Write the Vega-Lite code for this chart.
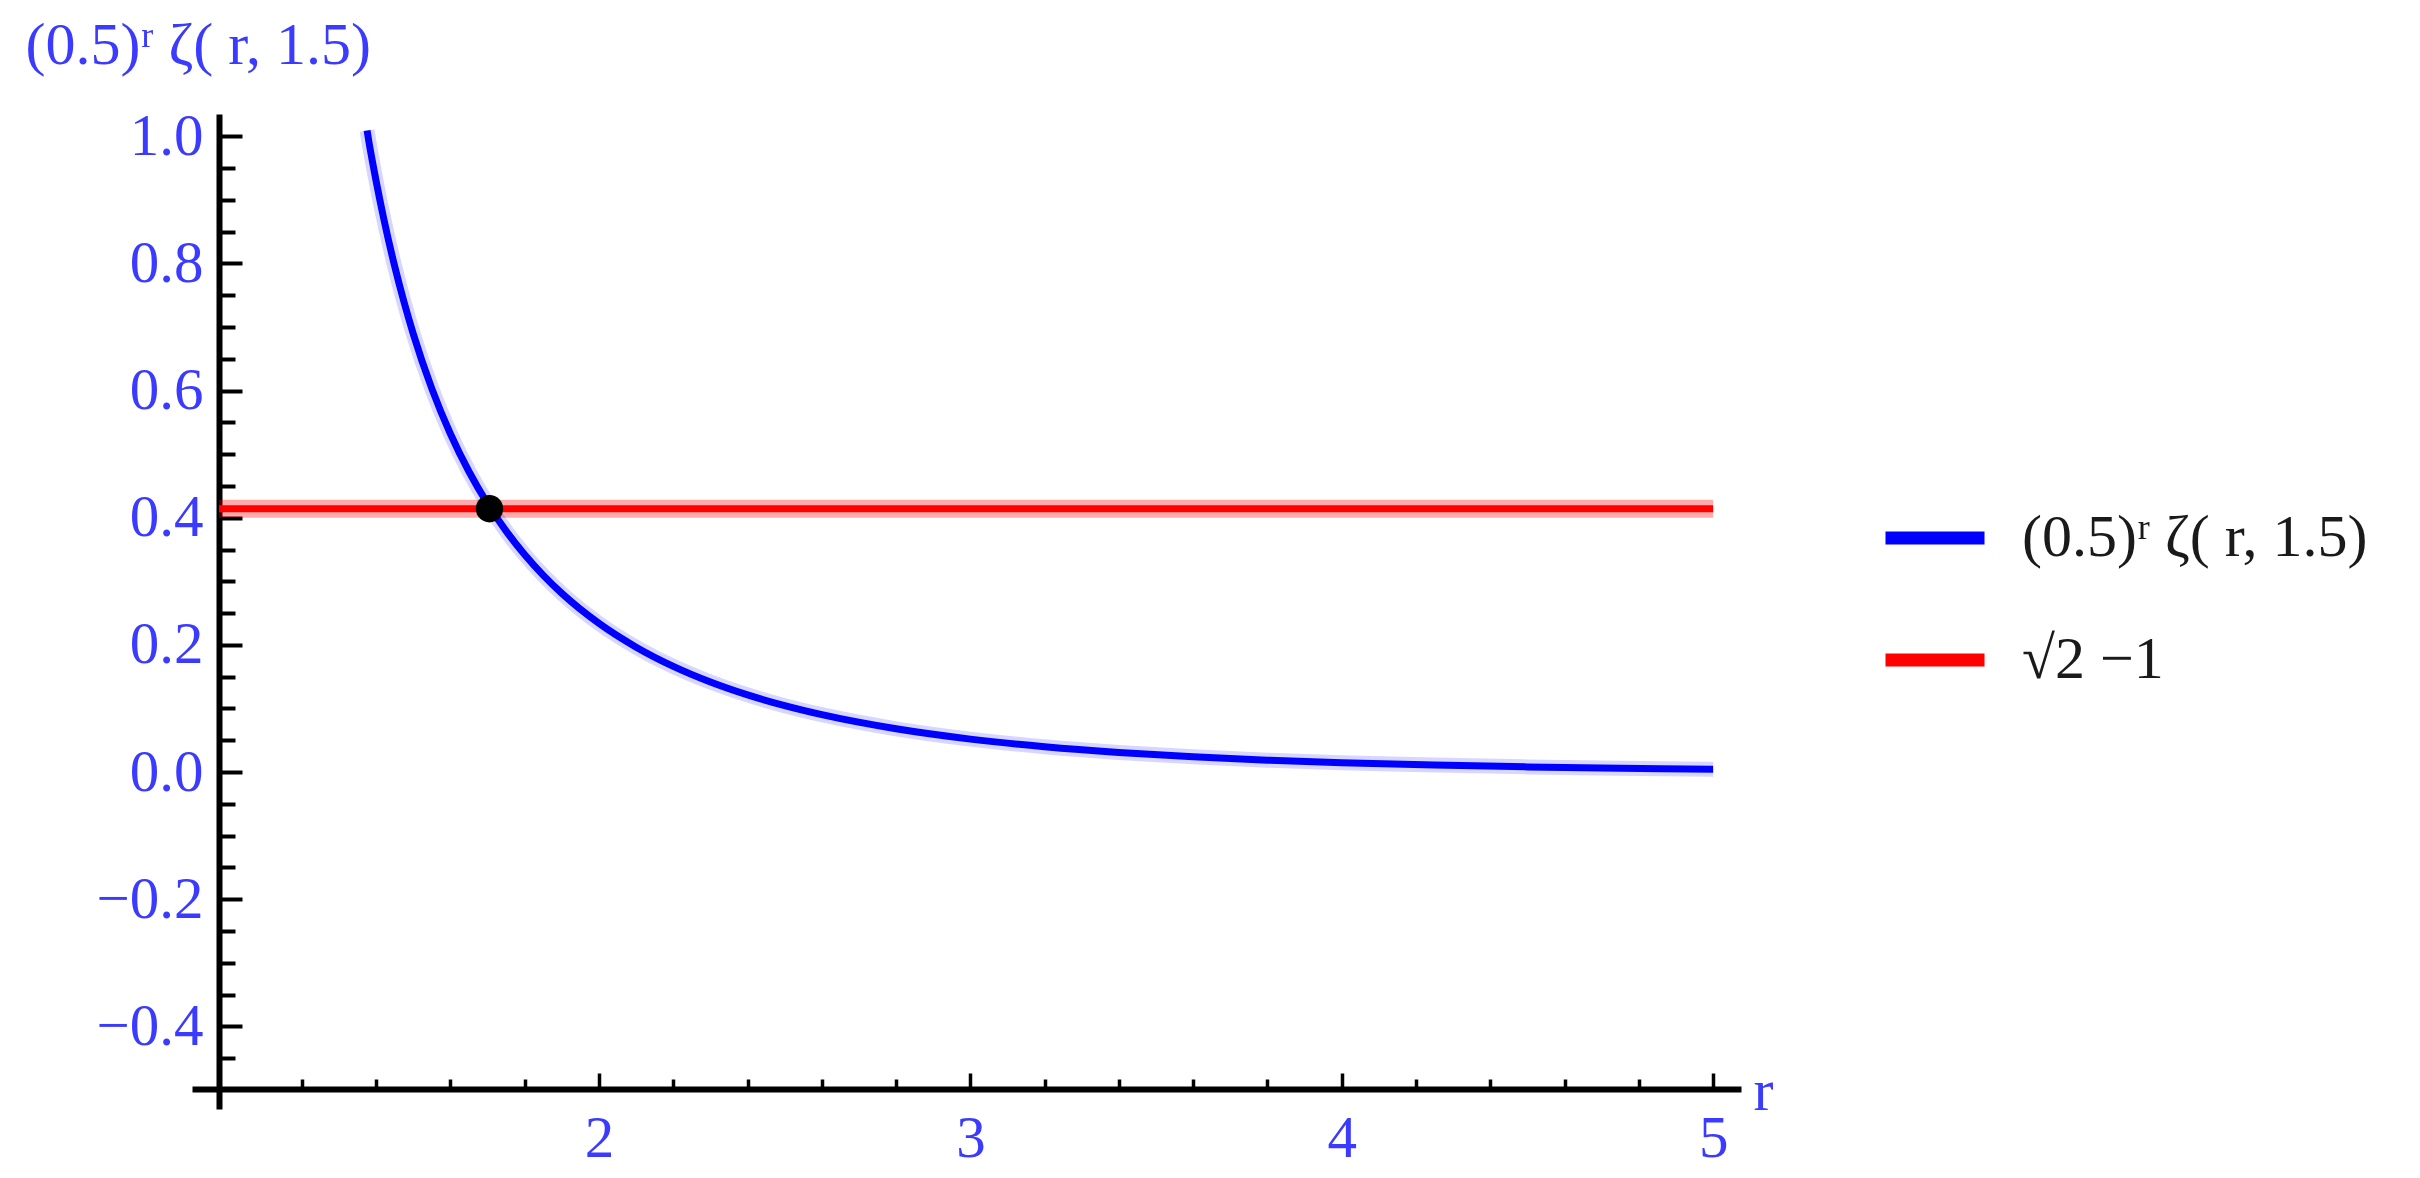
{
  "$schema": "https://vega.github.io/schema/vega-lite/v6.json",
  "width": 1549,
  "height": 995,
  "autosize": {"type": "none"},
  "padding": {"left": 192, "top": 114, "right": 679, "bottom": 69},
  "background": "white",
  "config": {"view": {"stroke": null}, "font": "Liberation Serif"},
  "encoding": {
    "x": {
      "field": "r",
      "type": "quantitative",
      "scale": {"domain": [0.904, 5.075], "nice": false, "zero": false},
      "axis": {
        "orient": "bottom",
        "offset": -20,
        "grid": false,
        "values": [1.2, 1.4, 1.6, 1.8, 2, 2.2, 2.4, 2.6, 2.8, 3, 3.2, 3.4, 3.6, 3.8, 4, 4.2, 4.4, 4.6, 4.8, 5],
        "labelExpr": "abs(datum.value - round(datum.value)) < 0.001 ? format(datum.value, 'd') : ''",
        "tickSize": {"condition": {"test": "abs(datum.value - round(datum.value)) < 0.001", "value": -16}, "value": -10},
        "tickWidth": 3.5,
        "tickColor": "black",
        "domainColor": "black",
        "domainWidth": 6,
        "labelFont": "Liberation Serif",
        "labelFontSize": 59,
        "labelColor": "#3b3bff",
        "labelPadding": 36,
        "labelBaseline": "top",
        "labelFlush": false,
        "labelOverlap": false,
        "labelBound": false,
        "title": "r",
        "titleFont": "Liberation Serif",
        "titleFontSize": 60,
        "titleFontWeight": "normal",
        "titleColor": "#3b3bff",
        "titleX": 1561,
        "titleY": 20,
        "titleAlign": "left",
        "titleBaseline": "alphabetic",
        "titleAngle": 0
      }
    },
    "y": {
      "field": "v",
      "type": "quantitative",
      "scale": {"domain": [-0.53, 1.035], "nice": false, "zero": false},
      "axis": {
        "orient": "left",
        "offset": -27,
        "grid": false,
        "values": [-0.45, -0.4, -0.35, -0.3, -0.25, -0.2, -0.15, -0.1, -0.05, 0, 0.05, 0.1, 0.15, 0.2, 0.25, 0.3, 0.35, 0.4, 0.45, 0.5, 0.55, 0.6, 0.65, 0.7, 0.75, 0.8, 0.85, 0.9, 0.95, 1.0],
        "labelExpr": "abs(datum.value * 5 - round(datum.value * 5)) < 0.001 ? format(datum.value, '.1f') : ''",
        "tickSize": {"condition": {"test": "abs(datum.value * 5 - round(datum.value * 5)) < 0.001", "value": -23}, "value": -16},
        "tickWidth": 4,
        "tickColor": "black",
        "domainColor": "black",
        "domainWidth": 6,
        "labelFont": "Liberation Serif",
        "labelFontSize": 59,
        "labelColor": "#3b3bff",
        "labelPadding": 39,
        "labelBaseline": "middle",
        "labelFlush": false,
        "labelOverlap": false,
        "labelBound": false,
        "title": "(0.5)ʳ ζ( r, 1.5)",
        "titleFont": "Liberation Serif",
        "titleFontSize": 60,
        "titleFontWeight": "normal",
        "titleColor": "#3b3bff",
        "titleAngle": 0,
        "titleX": -194,
        "titleY": -51,
        "titleAlign": "left",
        "titleBaseline": "alphabetic"
      }
    }
  },
  "datasets": {
    "curve": [
      {"r": 1.3755, "v": 1.009},
      {"r": 1.38, "v": 0.9926},
      {"r": 1.39, "v": 0.9598},
      {"r": 1.4, "v": 0.9288},
      {"r": 1.42, "v": 0.8712},
      {"r": 1.45, "v": 0.7949},
      {"r": 1.475, "v": 0.739},
      {"r": 1.5, "v": 0.6888},
      {"r": 1.55, "v": 0.6027},
      {"r": 1.6, "v": 0.5317},
      {"r": 1.65, "v": 0.4723},
      {"r": 1.7, "v": 0.422},
      {"r": 1.75, "v": 0.3789},
      {"r": 1.8, "v": 0.3417},
      {"r": 1.85, "v": 0.3093},
      {"r": 1.9, "v": 0.2809},
      {"r": 2.0, "v": 0.2337},
      {"r": 2.1, "v": 0.1964},
      {"r": 2.2, "v": 0.1662},
      {"r": 2.3, "v": 0.1416},
      {"r": 2.4, "v": 0.1213},
      {"r": 2.5, "v": 0.1044},
      {"r": 2.6, "v": 0.0902},
      {"r": 2.8, "v": 0.068},
      {"r": 3.0, "v": 0.0518},
      {"r": 3.2, "v": 0.0398},
      {"r": 3.4, "v": 0.0308},
      {"r": 3.6, "v": 0.024},
      {"r": 3.8, "v": 0.0187},
      {"r": 4.0, "v": 0.0147},
      {"r": 4.25, "v": 0.0109},
      {"r": 4.5, "v": 0.0081},
      {"r": 4.75, "v": 0.006},
      {"r": 5.0, "v": 0.0045}
    ],
    "level": [
      {"r": 0.977, "v": 0.41421},
      {"r": 5.0, "v": 0.41421}
    ],
    "cross": [
      {"r": 1.705, "v": 0.41421}
    ]
  },
  "layer": [
    {
      "data": {"name": "level"},
      "mark": {"type": "line", "color": "#ff0000", "strokeWidth": 18, "opacity": 0.33},
      "encoding": {}
    },
    {
      "data": {"name": "level"},
      "transform": [{"calculate": "'√2 −1'", "as": "series"}],
      "mark": {"type": "line", "strokeWidth": 7},
      "encoding": {
        "color": {
          "field": "series",
          "type": "nominal",
          "scale": {"domain": ["(0.5)ʳ ζ( r, 1.5)", "√2 −1"], "range": ["#0000ff", "#ff0000"]},
          "legend": {
            "orient": "none",
            "legendX": 1687,
            "legendY": 368,
            "title": null,
            "padding": 0,
            "symbolType": "stroke",
            "symbolSize": 9801,
            "symbolStrokeWidth": 13,
            "symbolOpacity": 1,
            "labelFont": "Liberation Serif",
            "labelFontSize": 60,
            "labelColor": "#1a1a1a",
            "labelOffset": 31,
            "labelLimit": 0,
            "rowPadding": 36
          }
        }
      }
    },
    {
      "data": {"name": "curve"},
      "mark": {"type": "line", "color": "#0000ff", "strokeWidth": 15, "opacity": 0.16, "interpolate": "monotone"},
      "encoding": {}
    },
    {
      "data": {"name": "curve"},
      "transform": [{"calculate": "'(0.5)ʳ ζ( r, 1.5)'", "as": "series"}],
      "mark": {"type": "line", "strokeWidth": 7, "interpolate": "monotone"},
      "encoding": {
        "color": {"field": "series", "type": "nominal"}
      }
    },
    {
      "data": {"name": "cross"},
      "mark": {"type": "circle", "color": "black", "size": 750, "opacity": 1},
      "encoding": {}
    }
  ]
}
